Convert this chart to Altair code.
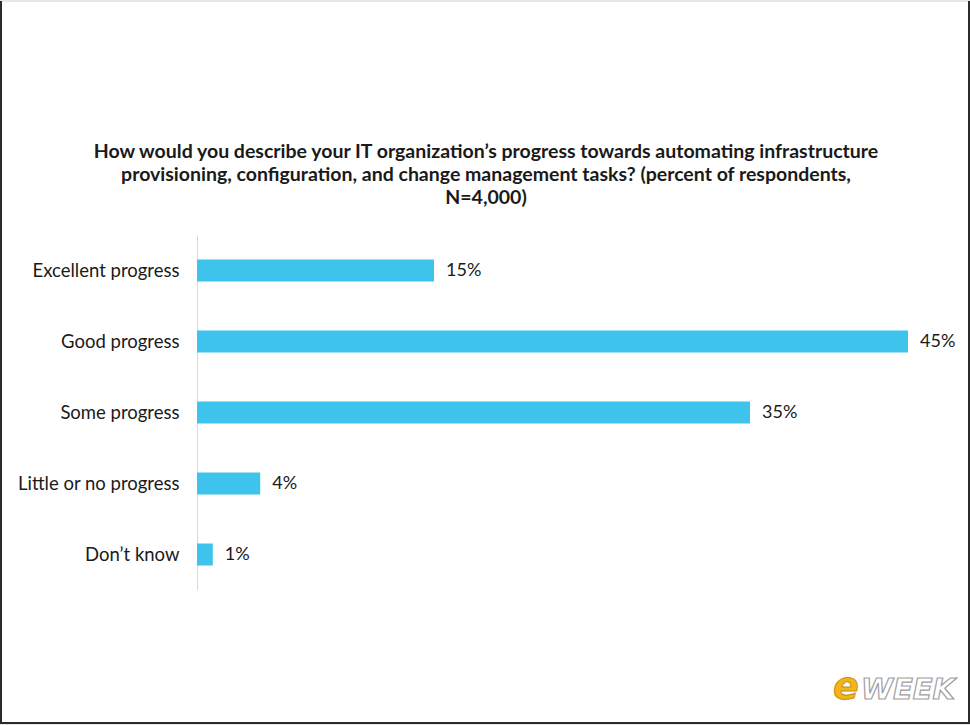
import altair as alt
import pandas as pd

# Survey answers and share of respondents (%)
categories = [
    "Excellent progress",
    "Good progress",
    "Some progress",
    "Little or no progress",
    "Don\u2019t know",
]
percent = [15, 45, 35, 4, 1]

title_lines = [
    "How would you describe your IT organization\u2019s progress towards automating infrastructure",
    "provisioning, configuration, and change management tasks? (percent of respondents,",
    "N=4,000)",
]

df = pd.DataFrame({"answer": categories, "pct": percent})
df["label"] = df["pct"].astype(str) + "%"

BAR_COLOR = "#3DC3EC"
TEXT_COLOR = "#1a1a1a"
PLOT_W, PLOT_H = 711, 355

y_enc = alt.Y(
    "answer:N",
    sort=categories,
    title=None,
    scale=alt.Scale(paddingInner=0.69, paddingOuter=0.345),
    axis=alt.Axis(
        domainColor="#d9d9d9",
        domainWidth=1,
        ticks=False,
        labelPadding=18,
        labelFont="Lato",
        labelFontSize=18.5,
        labelColor=TEXT_COLOR,
    ),
)
x_enc = alt.X(
    "pct:Q",
    title=None,
    scale=alt.Scale(domain=[0, 45], nice=False),
    axis=None,
)

base = alt.Chart(df)

bars = base.mark_bar(color=BAR_COLOR).encode(x=x_enc, y=y_enc)

values = base.mark_text(
    align="left", baseline="middle", dx=12, font="Lato", fontSize=18, color=TEXT_COLOR
).encode(x=x_enc, y=alt.Y("answer:N", sort=categories), text="label:N")

single = pd.DataFrame({"k": [0]})

# Heading above the bars, centred on the page
heading = alt.Chart(single).mark_text(
    text=title_lines,
    font="Lato",
    fontSize=19.5,
    fontWeight="bold",
    color=TEXT_COLOR,
    align="center",
    baseline="middle",
    lineHeight=23,
).encode(x=alt.value(289), y=alt.value(-83))

# Page frame (defines the full canvas around the plot area)
frame = alt.Chart(single).mark_rect(
    fill="white", fillOpacity=0, stroke="#e6e6e6", strokeWidth=2
).encode(
    x=alt.value(-196), x2=alt.value(772), y=alt.value(-234), y2=alt.value(489)
)
edge_left = alt.Chart(single).mark_rule(color="#2b2b2b", strokeWidth=2).encode(
    x=alt.value(-196), y=alt.value(-234), y2=alt.value(489)
)
edge_right = alt.Chart(single).mark_rule(color="#2b2b2b", strokeWidth=2).encode(
    x=alt.value(772), y=alt.value(-234), y2=alt.value(489)
)
edge_bottom = alt.Chart(single).mark_rule(color="#2b2b2b", strokeWidth=2).encode(
    x=alt.value(-196), x2=alt.value(772), y=alt.value(488)
)

# Publisher wordmark in the lower right corner
logo_font = dict(font="DejaVu Sans", fontWeight="bold", fontStyle="italic",
                 align="left", baseline="middle")
logo_e = alt.Chart(single).mark_text(
    text="e", fontSize=38, color="#F2B61C", stroke="#c98f10", strokeWidth=1, **logo_font
).encode(x=alt.value(636), y=alt.value(453))
logo_week = alt.Chart(single).mark_text(
    text="WEEK", fontSize=29, color="#ffffff", stroke="#9e9e9e", strokeWidth=1.2, **logo_font
).encode(x=alt.value(664), y=alt.value(455))

chart = (
    alt.layer(
        frame, heading, bars, values,
        logo_e, logo_week,
        edge_left, edge_right, edge_bottom,
    )
    .properties(width=PLOT_W, height=PLOT_H, padding=0, background="white")
    .configure_view(stroke=None)
)

chart.save("out.html", embed_options={"renderer": "svg", "actions": False})
